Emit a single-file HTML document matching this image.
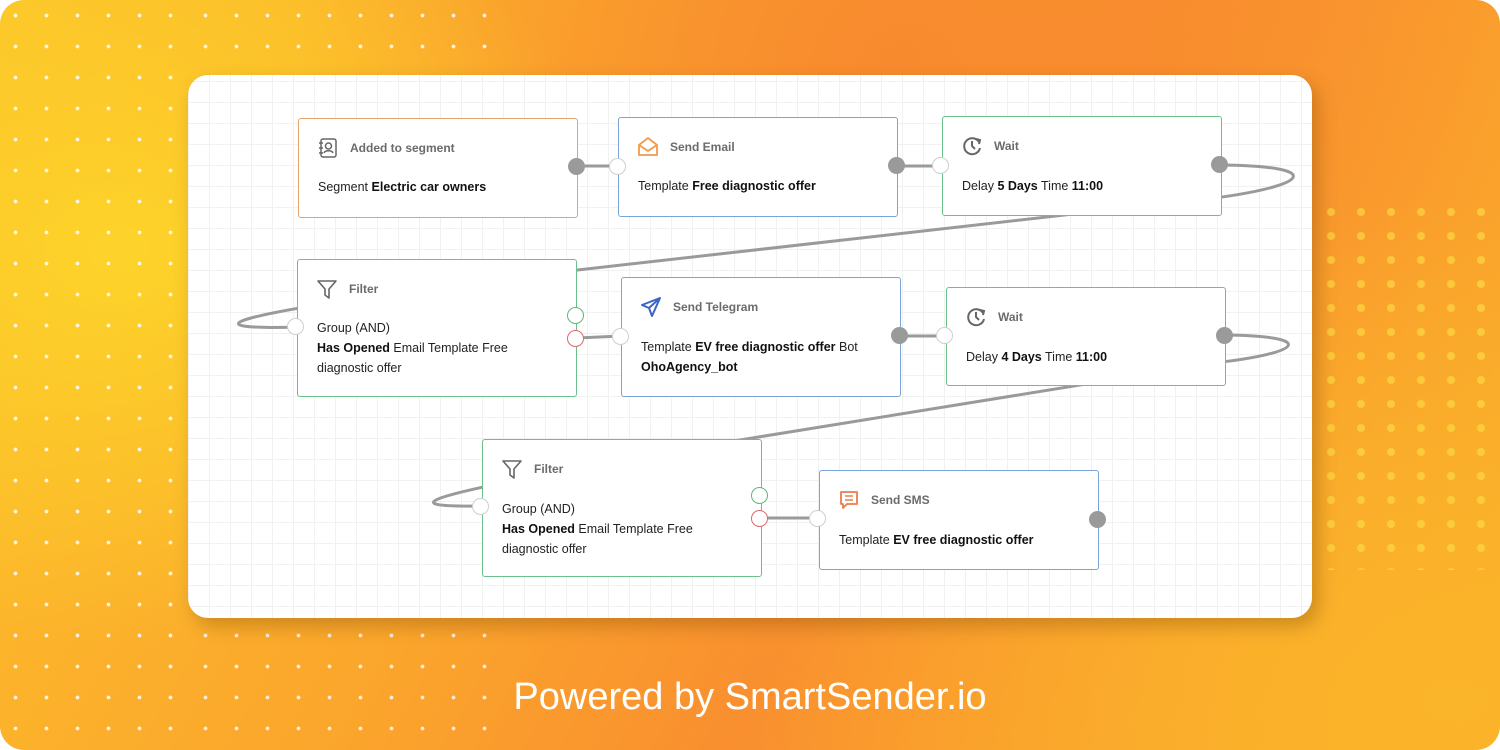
<!DOCTYPE html>
<html><head><meta charset="utf-8"><style>
html,body{margin:0;padding:0;}
body{width:1500px;height:750px;position:relative;overflow:hidden;background:#fff;font-family:"Liberation Sans",sans-serif;}
.bg{position:absolute;left:0;top:0;width:1500px;height:750px;border-radius:24px;overflow:hidden;
background:
radial-gradient(ellipse 500px 400px at 120px 250px,#fdd32a 0%,rgba(253,211,42,0) 100%),
radial-gradient(ellipse 700px 500px at 1450px 700px,#fbb52a 0%,rgba(251,181,42,0) 100%),
radial-gradient(ellipse 600px 500px at 900px 60px,#f88a2e 0%,rgba(248,138,46,0) 100%),
linear-gradient(120deg,#fcc22a 0%,#fba52c 40%,#f98f2f 60%,#fbb02a 100%);}
.dots{position:absolute;left:0;top:0;width:190px;height:750px;
background-image:radial-gradient(circle,rgba(255,255,255,.85) 1.6px,transparent 2.2px);background-size:31px 31px;}
.dots2{position:absolute;left:190px;top:0;width:310px;height:75px;
background-image:radial-gradient(circle,rgba(255,255,255,.85) 1.6px,transparent 2.2px);background-size:31px 31px;}
.dots3{position:absolute;left:190px;top:620px;width:300px;height:130px;
background-image:radial-gradient(circle,rgba(255,255,255,.8) 1.6px,transparent 2.2px);background-size:31px 31px;}
.dots4{position:absolute;left:1316px;top:200px;width:184px;height:370px;
background-image:radial-gradient(circle,rgba(253,225,70,.6) 3.5px,transparent 4.5px);background-size:30px 24px;}
.card{position:absolute;left:188px;top:75px;width:1124px;height:543px;border-radius:20px;background-color:#fff;
background-image:linear-gradient(#f1f1f1 1px,transparent 1px),linear-gradient(90deg,#f1f1f1 1px,transparent 1px);
background-size:21px 21px;background-position:0 6px;box-shadow:6px 8px 18px rgba(120,70,0,.35);overflow:hidden;}
svg.lines{position:absolute;left:0;top:0;}
.node{position:absolute;background:#fff;border:1.5px solid #6cc08b;border-radius:3px;box-sizing:border-box;}
.node .t{position:absolute;left:51px;top:22px;font-size:12px;font-weight:bold;color:#6b6b6b;}
.node .ic{position:absolute;left:18px;top:18px;width:22px;height:22px;}
.node .b{position:absolute;left:19px;font-size:12.5px;color:#222;line-height:20px;}
.node .b b{color:#111;}
.port{position:absolute;width:17px;height:17px;border-radius:50%;box-sizing:border-box;}
.pf{background:#9a9a9a;}
.pi{background:#fff;border:1.5px solid #cfcfcf;}
.pg{background:#fff;border:1.5px solid #5cb77c;}
.pr{background:#fff;border:1.5px solid #d86a6a;}
.foot{position:absolute;left:0;width:1500px;top:676px;text-align:center;color:#fff;font-size:38px;}
</style></head><body>
<div class="bg"><div class="dots"></div><div class="dots2"></div><div class="dots3"></div><div class="dots4"></div></div>
<div class="card"></div>
<svg class="lines" width="1500" height="750">
<g fill="none" stroke="#9a9a9a" stroke-width="3">
<path d="M577,166 L618,166"/>
<path d="M897,166 L942,166"/>
<path d="M1220,165 C1325,166 1312,185 1215,198 L560,272 C185,318 200,330 297,327"/>
<path d="M577,338 L621,336"/>
<path d="M899,336 L946,336"/>
<path d="M1225,335 C1315,336 1305,352 1222,362 L740,440 C385,500 400,507 482,506"/>
<path d="M760,518 L818,518"/>
</g>
</svg>

<div class="node" style="left:298px;top:118px;width:280px;height:100px;border-color:#e8a468">
<svg class="ic" viewBox="0 0 22 22"><rect x="4" y="2" width="15" height="18" rx="2" fill="none" stroke="#666" stroke-width="1.5"/><circle cx="11.5" cy="9" r="3" fill="none" stroke="#666" stroke-width="1.5"/><path d="M7 16c1-3 8-3 9 0" fill="none" stroke="#666" stroke-width="1.5"/><path d="M2 6h4M2 11h4M2 16h4" stroke="#666" stroke-width="1.5"/></svg>
<div class="t">Added to segment</div><div class="b" style="top:58px">Segment <b>Electric car owners</b></div></div>

<div class="node" style="left:618px;top:117px;width:280px;height:100px;border-color:#7aa3d8">
<svg class="ic" viewBox="0 0 22 22"><path d="M2 9 L11 2 L20 9 V19 H2 Z" fill="none" stroke="#f39a4a" stroke-width="1.8"/><path d="M2 9 L11 15 L20 9" fill="none" stroke="#f39a4a" stroke-width="1.8"/></svg>
<div class="t">Send Email</div><div class="b" style="top:58px">Template <b>Free diagnostic offer</b></div></div>

<div class="node" style="left:942px;top:116px;width:280px;height:100px">
<svg class="ic" viewBox="0 0 22 22"><path d="M18 7 A8 8 0 1 0 19 13" fill="none" stroke="#666" stroke-width="2"/><path d="M11 6v5l3 3" fill="none" stroke="#666" stroke-width="2"/><path d="M15 4l4 1-1 4" fill="none" stroke="#666" stroke-width="2"/></svg>
<div class="t">Wait</div><div class="b" style="top:59px">Delay <b>5 Days</b> Time <b>11:00</b></div></div>

<div class="node" style="left:297px;top:259px;width:280px;height:138px">
<svg class="ic" viewBox="0 0 22 22"><path d="M2 3 H20 L13 11 V20 L9 17 V11 Z" fill="none" stroke="#666" stroke-width="1.6" stroke-linejoin="round"/></svg>
<div class="t">Filter</div><div class="b" style="top:58px">Group (AND)<br><b>Has Opened</b> Email Template Free<br>diagnostic offer</div></div>

<div class="node" style="left:621px;top:277px;width:280px;height:120px;border-color:#7aa3d8">
<svg class="ic" viewBox="0 0 22 22"><path d="M20 2 L2 9 L9 12 L12 20 Z" fill="none" stroke="#3a64c8" stroke-width="2" stroke-linejoin="round"/><path d="M9 12 L20 2" stroke="#3a64c8" stroke-width="2"/></svg>
<div class="t">Send Telegram</div><div class="b" style="top:59px">Template <b>EV free diagnostic offer</b> Bot<br><b>OhoAgency_bot</b></div></div>

<div class="node" style="left:946px;top:287px;width:280px;height:99px">
<svg class="ic" viewBox="0 0 22 22"><path d="M18 7 A8 8 0 1 0 19 13" fill="none" stroke="#666" stroke-width="2"/><path d="M11 6v5l3 3" fill="none" stroke="#666" stroke-width="2"/><path d="M15 4l4 1-1 4" fill="none" stroke="#666" stroke-width="2"/></svg>
<div class="t">Wait</div><div class="b" style="top:59px">Delay <b>4 Days</b> Time <b>11:00</b></div></div>

<div class="node" style="left:482px;top:439px;width:280px;height:138px">
<svg class="ic" viewBox="0 0 22 22"><path d="M2 3 H20 L13 11 V20 L9 17 V11 Z" fill="none" stroke="#666" stroke-width="1.6" stroke-linejoin="round"/></svg>
<div class="t">Filter</div><div class="b" style="top:59px">Group (AND)<br><b>Has Opened</b> Email Template Free<br>diagnostic offer</div></div>

<div class="node" style="left:819px;top:470px;width:280px;height:100px;border-color:#7aa3d8">
<svg class="ic" viewBox="0 0 22 22"><path d="M3 3 H19 V15 H9 L5 19 V15 H3 Z" fill="none" stroke="#f07a4a" stroke-width="1.8" stroke-linejoin="round"/><path d="M7 7h8M7 11h8" stroke="#f07a4a" stroke-width="1.6"/></svg>
<div class="t">Send SMS</div><div class="b" style="top:59px">Template <b>EV free diagnostic offer</b></div></div>

<div class="port pf" style="left:568px;top:158px"></div>
<div class="port pi" style="left:609px;top:158px"></div>
<div class="port pf" style="left:888px;top:157px"></div>
<div class="port pi" style="left:932px;top:157px"></div>
<div class="port pf" style="left:1211px;top:156px"></div>
<div class="port pi" style="left:287px;top:318px"></div>
<div class="port pg" style="left:567px;top:307px"></div>
<div class="port pr" style="left:567px;top:330px"></div>
<div class="port pi" style="left:612px;top:328px"></div>
<div class="port pf" style="left:891px;top:327px"></div>
<div class="port pi" style="left:936px;top:327px"></div>
<div class="port pf" style="left:1216px;top:327px"></div>
<div class="port pi" style="left:472px;top:498px"></div>
<div class="port pg" style="left:751px;top:487px"></div>
<div class="port pr" style="left:751px;top:510px"></div>
<div class="port pi" style="left:809px;top:510px"></div>
<div class="port pf" style="left:1089px;top:511px"></div>

<div class="foot">Powered by SmartSender.io</div>
</body></html>
